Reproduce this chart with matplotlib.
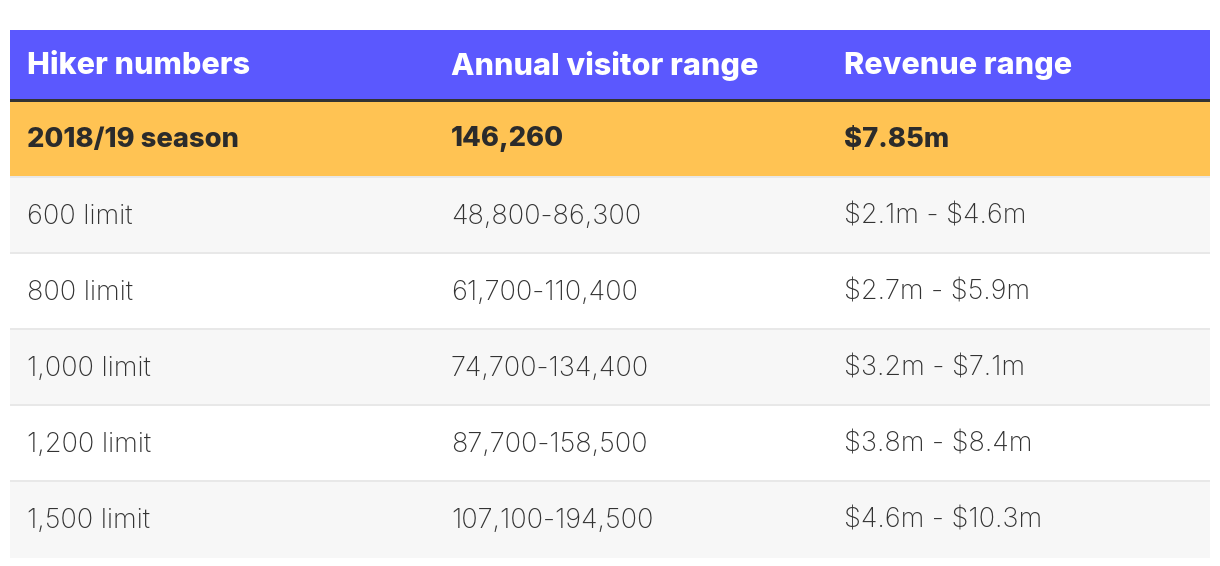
import matplotlib.pyplot as plt
from matplotlib.patches import Rectangle

plt.rcParams["text.parse_math"] = False

headers = ["Hiker numbers", "Annual visitor range", "Revenue range"]
season_row = ["2018/19 season", "146,260", "$7.85m"]
limits = ["600 limit", "800 limit", "1,000 limit", "1,200 limit", "1,500 limit"]
visitors = ["48,800-86,300", "61,700-110,400", "74,700-134,400", "87,700-158,500", "107,100-194,500"]
revenue = ["$2.1m - $4.6m", "$2.7m - $5.9m", "$3.2m - $7.1m", "$3.8m - $8.4m", "$4.6m - $10.3m"]

W, H = 1220, 566
left, right = 10, 1210
col_x = [27, 451, 844]
top = 30
head_h = 69
line_h = 3
row_h = 76

fig = plt.figure(figsize=(W / 100, H / 100), dpi=100)
ax = fig.add_axes([0, 0, 1, 1])
ax.set_xlim(0, W)
ax.set_ylim(H, 0)
ax.axis("off")

fam = ["Inter", "DejaVu Sans"]

# header
ax.add_patch(Rectangle((left, top), right - left, head_h, color="#5b58fe", lw=0))
for x, t in zip(col_x, headers):
    ax.text(x, top + head_h / 2 + 1.5, t, color="white", fontsize=22, fontweight=800,
            family=fam, va="center", ha="left")
y = top + head_h
ax.add_patch(Rectangle((left, y), right - left, line_h, color="#333333", lw=0))
y += line_h

# highlighted season row
ax.add_patch(Rectangle((left, y), right - left, row_h - 2, color="#ffc353", lw=0))
for x, t in zip(col_x, season_row):
    ax.text(x, y + row_h / 2 - 0.5, t, color="#2b2b2b", fontsize=19.7, fontweight=800,
            family=fam, va="center", ha="left")
y += row_h

for i, row in enumerate(zip(limits, visitors, revenue)):
    bg = "#f7f7f7" if i % 2 == 0 else "white"
    ax.add_patch(Rectangle((left, y), right - left, row_h, color=bg, lw=0))
    ax.add_patch(Rectangle((left, y - 2), right - left, 2, color="#e8e8e8", lw=0))
    for x, t in zip(col_x, row):
        ax.text(x, y + row_h / 2 + 0.5, t, color="#333333", fontsize=19.5, fontweight="light",
                family=fam, va="center", ha="left")
    y += row_h

fig.savefig("out.png", dpi=100, facecolor="white")
